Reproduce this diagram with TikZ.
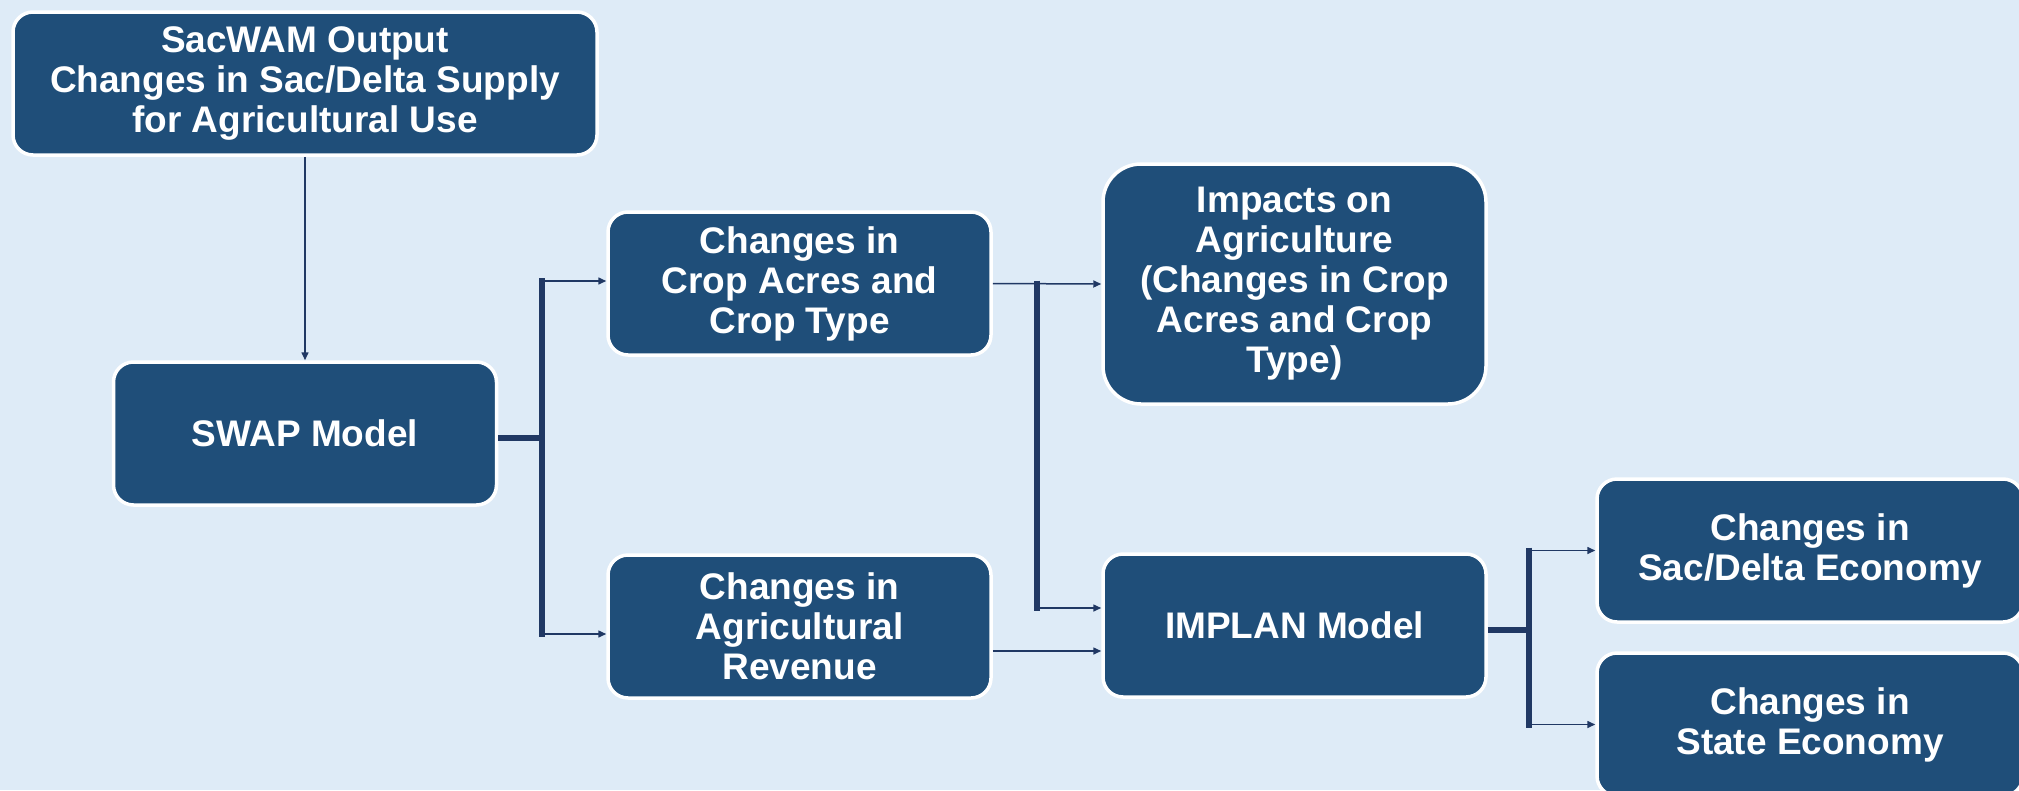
\documentclass[tikz,border=0pt]{standalone}
\usepackage{fontspec}
\setmainfont{Liberation Sans}
\usetikzlibrary{arrows.meta}
\definecolor{bgcol}{HTML}{DEEBF7}
\definecolor{boxfill}{HTML}{1F4E79}
\definecolor{conn}{HTML}{203864}
\tikzset{
  box/.style={draw=white, line width=3.5pt, fill=boxfill, rounded corners=20pt,
    text=white, font=\fontsize{37}{40}\selectfont\bfseries, align=center, inner sep=0pt,
    minimum height=143pt, minimum width=383pt},
  link/.style={draw=conn, line width=1.5pt, -{Triangle[length=8pt,width=7pt]}},
  bar/.style={draw=conn, line width=6pt},
}
\begin{document}
\begin{tikzpicture}[x=1pt,y=-1pt]
\useasboundingbox (0,0) rectangle (2019,790);
\clip (0,0) rectangle (2019,790);
\fill[bgcol] (0,0) rectangle (2019,790);

\node[box, minimum width=584pt] (top) at (305,83.5) {SacWAM Output\\Changes in Sac/Delta Supply\\for Agricultural Use};
\node[box] (swap) at (305,433.5) {SWAP Model};
\node[box] (crop) at (799.5,283.5) {Changes in\\Crop Acres and\\Crop Type};
\node[box] (rev) at (799.5,626.5) {Changes in\\Agricultural\\Revenue};
\node[box, minimum height=240pt, rounded corners=38pt] (impacts) at (1294.5,284) {Impacts on\\Agriculture\\(Changes in Crop\\Acres and Crop\\Type)};
\node[box] (implan) at (1294.5,625.5) {IMPLAN Model};
\node[box, minimum width=426pt] (sacdelta) at (1810,550.5) {Changes in\\Sac/Delta Economy};
\node[box, minimum width=426pt] (state) at (1810,724.5) {Changes in\\State Economy};

% top -> swap
\draw[link] (top.south) -- (swap.north);

% swap fork
\coordinate (b1t) at (542,281);
\coordinate (b1b) at (542,634);
\coordinate (b1m) at (542,438);
\draw[bar] ([yshift=-4.5pt]swap.east) -- (b1m);
\draw[bar] ([yshift=3pt]b1t) -- ([yshift=-3pt]b1b);
\draw[link] (b1t) -- (b1t -| crop.west);
\draw[link] (b1b) -- (b1b -| rev.west);

% crop -> impacts and implan
\draw[link] (crop.east) -- (impacts.west);
\coordinate (b2t) at (1037,283.5);
\coordinate (b2b) at (1037,608);
\draw[bar] ([yshift=3pt]b2t) -- ([yshift=-3pt]b2b);
\draw[link] (b2b) -- (b2b -| implan.west);

% rev -> implan
\draw[link] ([yshift=-24.5pt]rev.east) -- ([yshift=-24.5pt]rev.east -| implan.west);

% implan fork
\coordinate (b3t) at (1529,550.5);
\coordinate (b3b) at (1529,724.5);
\coordinate (b3m) at (1529,630);
\draw[bar] ([yshift=-4.5pt]implan.east) -- (b3m);
\draw[bar] ([yshift=3pt]b3t) -- ([yshift=-3pt]b3b);
\draw[link] (b3t) -- (b3t -| sacdelta.west);
\draw[link] (b3b) -- (b3b -| state.west);
\end{tikzpicture}
\end{document}
